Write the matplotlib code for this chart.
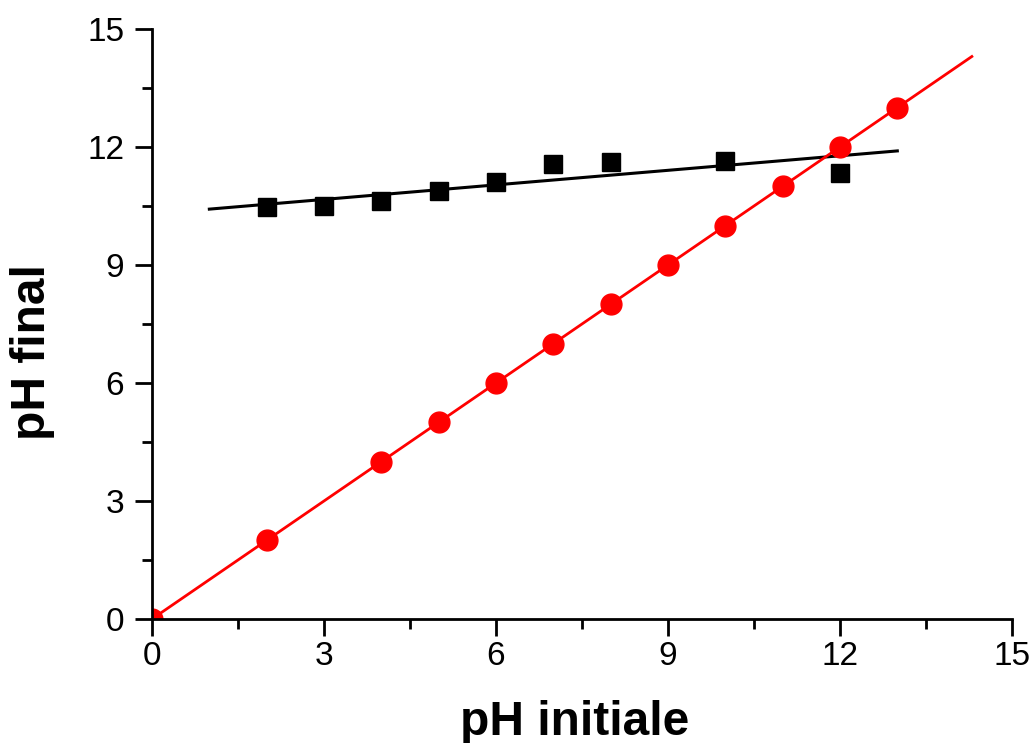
import numpy as np
import matplotlib.pyplot as plt
from matplotlib.ticker import MultipleLocator

plt.rcParams['font.family'] = ['Liberation Sans', 'DejaVu Sans']

# measured points
ph_init_black = [2, 3, 4, 5, 6, 7, 8, 10, 12]
ph_final_black = [10.47, 10.5, 10.63, 10.88, 11.11, 11.57, 11.62, 11.65, 11.34]
ph_init_red = [0, 2, 4, 5, 6, 7, 8, 9, 10, 11, 12, 13]
ph_final_red = [0, 2, 4, 5, 6, 7, 8, 9, 10, 11, 12, 13]

# fitted lines (end points)
fit_black_x = [1, 13]
fit_black_y = [10.42, 11.9]
fit_red_x = [0, 14.3]
fit_red_y = [0, 14.3]

fig = plt.figure(figsize=(10.32, 7.43), dpi=100)
ax = fig.add_axes([0.1473, 0.1669, 0.8333, 0.7941])

ax.plot(fit_black_x, fit_black_y, color='black', lw=2.2)
ax.plot(fit_red_x, fit_red_y, color='red', lw=2)
ax.plot(ph_init_black, ph_final_black, 's', color='black', ms=13.5, ls='none')
ax.plot(ph_init_red, ph_final_red, 'o', color='red', ms=15, ls='none')

ax.set_xlim(0, 15)
ax.set_ylim(0, 15)
ax.xaxis.set_major_locator(MultipleLocator(3))
ax.xaxis.set_minor_locator(MultipleLocator(1.5))
ax.yaxis.set_major_locator(MultipleLocator(3))
ax.yaxis.set_minor_locator(MultipleLocator(1.5))

for side in ['top', 'right']:
    ax.spines[side].set_visible(False)
for side in ['left', 'bottom']:
    ax.spines[side].set_linewidth(2)

ax.tick_params(which='major', direction='out', length=12, width=2, labelsize=24)
ax.tick_params(axis='x', which='major', pad=4)
ax.tick_params(axis='y', which='major', pad=8)
ax.tick_params(which='minor', direction='out', length=7, width=2)

ax.set_xlabel('pH initiale', fontsize=34.5, fontweight='bold')
ax.set_ylabel('pH final', fontsize=34.5, fontweight='bold')
ax.xaxis.set_label_coords(0.491, -0.137)
ax.yaxis.set_label_coords(-0.113, 0.453)

fig.savefig('out.png', dpi=100)
